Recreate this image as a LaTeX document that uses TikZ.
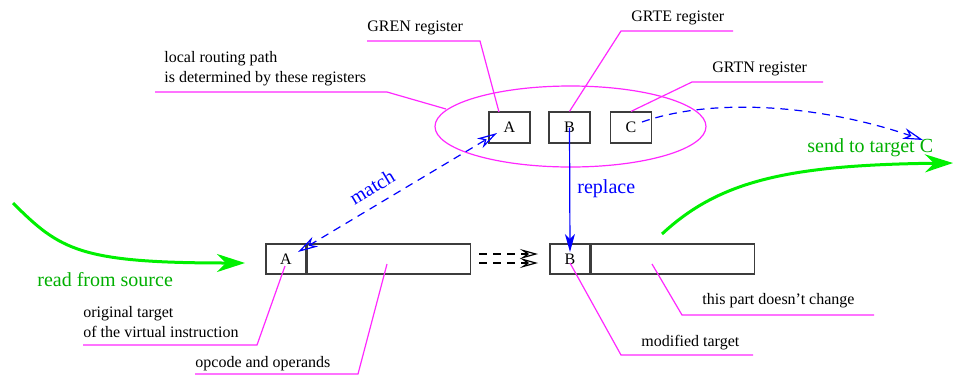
\documentclass[tikz,border=0pt]{standalone}
\usepackage{fontspec}
\setmainfont{Liberation Serif}
\usetikzlibrary{arrows.meta,shapes.geometric}
\definecolor{leadmag}{RGB}{255,40,255}
\definecolor{txtgreen}{RGB}{0,175,0}
\definecolor{flowgreen}{RGB}{0,240,0}
\definecolor{boxgray}{RGB}{60,60,60}

\tikzset{
  lbl/.style={anchor=west, inner sep=0pt, font=\fontsize{8}{10}\selectfont, align=left},
  biglbl/.style={anchor=west, inner sep=0pt, font=\fontsize{10}{12}\selectfont},
  regbox/.style={draw=boxgray, line width=0.6pt, minimum width=20.5pt, minimum height=15.5pt,
                 inner sep=0pt, font=\fontsize{8}{10}\selectfont},
  cellbox/.style={draw=boxgray, line width=0.6pt, minimum height=15pt, inner sep=0pt,
                  font=\fontsize{8}{10}\selectfont},
  leader/.style={draw=leadmag, line width=0.6pt},
  bluedash/.style={draw=blue, line width=0.6pt, dash pattern=on 4pt off 3pt},
  opentip/.tip={Stealth[open, length=10pt, width=5.5pt, inset=3pt]},
  copytip/.tip={Stealth[open, length=9pt, width=5pt, inset=3.5pt]},
  flow/.style={draw=flowgreen, line width=1.5pt,
               -{Stealth[length=14pt, width=9pt, inset=4.5pt]}},
}

\begin{document}
\begin{tikzpicture}[x=0.5pt, y=-0.5pt]
\useasboundingbox (0,0) rectangle (953,376);

% register group
\node[ellipse, draw=leadmag, line width=0.6pt, minimum width=135.5pt, minimum height=40.5pt,
      inner sep=0pt] (grp) at (570.5,126.5) {};
\node[regbox] (ra) at (509.5,127.5) {A};
\node[regbox] (rb) at (569.5,127.5) {B};
\node[regbox] (rc) at (631,127.5) {C};

% instruction words
\node[cellbox, minimum width=20pt] (ia) at (286,259) {A};
\node[cellbox, minimum width=81.5pt, anchor=west] (ir) at (ia.east) {};
\node[cellbox, minimum width=20pt] (ob) at (570,259) {B};
\node[cellbox, minimum width=81.5pt, anchor=west] (or) at (ob.east) {};

% labels
\node[lbl] (tgren) at (367,28) {GREN register};
\node[lbl] (tgrte) at (631,18) {GRTE register};
\node[lbl] (tgrtn) at (712,69) {GRTN register};
\node[lbl] (tlocal) at (164,69) {local routing path\\is determined by these registers};
\node[lbl] (torig) at (83,322) {original target\\of the virtual instruction};
\node[lbl] (topc) at (195,364) {opcode and operands};
\node[lbl] (tmod) at (641,343) {modified target};
\node[lbl] (tpart) at (702,301) {this part doesn’t change};
\node[biglbl, text=txtgreen] (tread) at (37,280) {read from source};
\node[biglbl, text=txtgreen] (tsend) at (807,148) {send to target C};
\node[biglbl, text=blue] (trep) at (577,189) {replace};
\node[font=\fontsize{10}{12}\selectfont, text=blue, rotate=31, inner sep=0pt] (tmatch) at (372,187) {match};

% leader lines
\coordinate (gA) at (499,112);
\draw[leader] (367,41) -- (480,41) -- (gA);
\draw[leader] (733,31) -- (621,31) -- (rb.north);
\draw[leader] (823,82) -- (692,82) -- (rc.north);
\draw[leader] (155,92) -- (387,92) -- (446,109);
\draw[leader] (83,345) -- (257,345) -- (285,266);
\draw[leader] (195,374) -- (358,374) -- (387,264);
\draw[leader] (753,355) -- (621,355) -- (570,263);
\draw[leader] (874,315) -- (682,315) -- (652,264);

% match: dashed double arrow between the two A fields
\coordinate (mlo) at (298,252);
\coordinate (mup) at (497,133);
\draw[bluedash, opentip-opentip] (mlo) -- (mup);

% replace
\coordinate (repend) at (570,252);
\draw[blue, line width=0.6pt, -{Stealth[length=9pt, width=5pt, inset=2.5pt]}] (rb.center) -- (repend);

% C sends onwards
\coordinate (sendc) at (923,140);
\draw[bluedash, -opentip] (642,122) .. controls (720,95) and (830,108) .. (sendc);

% copying the instruction
\draw[line width=0.6pt, dash pattern=on 4pt off 3pt, -copytip] (479,254) -- (538,254);
\draw[line width=0.6pt, dash pattern=on 4pt off 3pt, -copytip] (479,263) -- (538,263);

% data flow in and out
\draw[flow] (13,203) .. controls (60,250) and (80,263) .. (245,263);
\draw[flow] (662,234) .. controls (720,180) and (790,165) .. (953,163);
\end{tikzpicture}
\end{document}
